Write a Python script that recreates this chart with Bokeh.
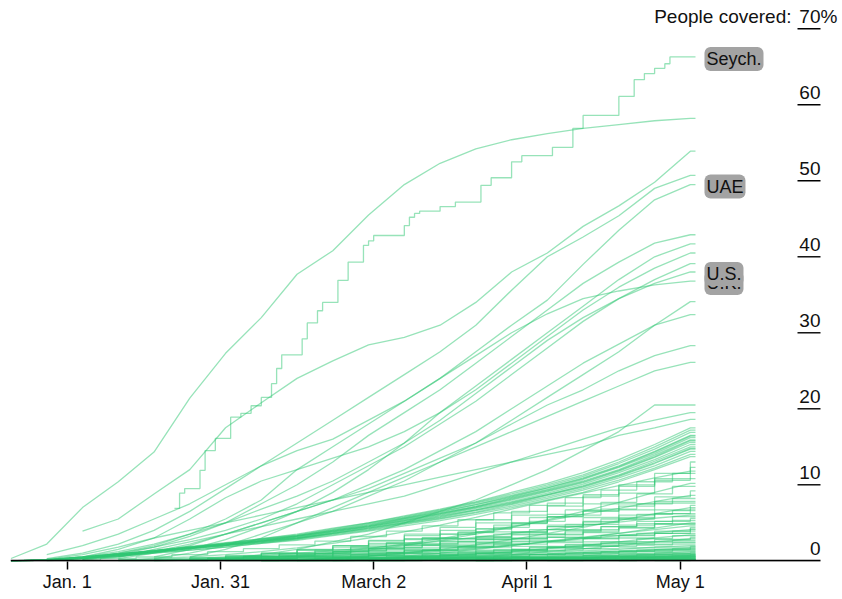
import pandas as pd
from bokeh.plotting import figure
from bokeh.models import Range1d, FixedTicker
from bokeh.embed import file_html
from bokeh.resources import INLINE
from bokeh.core.properties import value

# ---------------- data ----------------
WEEKS = ["2020-12-21", "2020-12-28", "2021-01-04", "2021-01-11", "2021-01-18", "2021-01-25",
         "2021-02-01", "2021-02-08", "2021-02-15", "2021-02-22", "2021-03-01", "2021-03-08",
         "2021-03-15", "2021-03-22", "2021-03-29", "2021-04-05", "2021-04-12", "2021-04-19",
         "2021-04-26", "2021-05-03"]
LAST_DAY = "2021-05-04"
N = None

# Seychelles (irregular reporting)
SEYCH_DATES = ["2021-01-22", "2021-01-23", "2021-01-24", "2021-01-27", "2021-01-28", "2021-01-30",
               "2021-02-02", "2021-02-04", "2021-02-06", "2021-02-08", "2021-02-10", "2021-02-11",
               "2021-02-12", "2021-02-16", "2021-02-17", "2021-02-19", "2021-02-20", "2021-02-23",
               "2021-02-25", "2021-02-28", "2021-03-01", "2021-03-02", "2021-03-08", "2021-03-09",
               "2021-03-10", "2021-03-11", "2021-03-15", "2021-03-18", "2021-03-23", "2021-03-25",
               "2021-03-29", "2021-03-31", "2021-04-06", "2021-04-10", "2021-04-12", "2021-04-19",
               "2021-04-22", "2021-04-24", "2021-04-26", "2021-04-28", "2021-04-29", "2021-05-04"]
SEYCH_VALUES = [6.9, 8.9, 9.5, 11.9, 14.5, 16.1, 18.9, 19.4, 20.4, 21.5, 23.3, 25.3, 27.1,
                29.2, 31.3, 32.9, 34.0, 36.9, 39.3, 41.5, 42.1, 42.8, 44.1, 45.2, 45.7, 46.0,
                46.6, 47.2, 49.4, 50.4, 52.5, 53.3, 54.4, 56.9, 58.6, 61.1, 63.3, 64.1, 64.8,
                65.4, 66.3, 66.3]

# upper / middle countries (weekly)
ISRAEL = [0.3, 2.2, 7.0, 10.4, 14.3, 21.4, 27.3, 32.0, 37.7, 40.8, 45.5, 49.5, 52.3, 54.2, 55.4, 56.2, 56.9, 57.4, 57.9, 58.2]
C_D = [N, N, 3.9, 5.5, 8.8, 12.0, 17.5, 20.8, 24.0, 26.3, 28.4, 29.4, 31.0, 34.0, 38.0, 40.5, 44.0, 46.7, 49.8, 53.9]
C_E = [N, 0.8, 2.0, 3.5, 5.5, 7.5, 10.0, 12.5, 15.5, 18.5, 21.5, 24.5, 27.5, 31.0, 35.6, 40.0, 42.6, 45.4, 49.0, 50.7]
UAE = [N, N, 0.3, 1.0, 2.0, 3.5, 5.5, 8.0, 12.0, 15.0, 18.0, 21.0, 24.0, 27.5, 31.0, 34.3, 39.0, 43.5, 47.5, 49.5]
C_G = [N, N, 0.2, 0.8, 1.8, 3.2, 5.0, 7.5, 10.0, 13.0, 16.5, 19.5, 22.5, 26.0, 29.5, 33.0, 36.5, 39.3, 41.8, 42.9]
C_H = [N, N, N, N, 0.5, 1.5, 2.8, 4.5, 6.5, 9.0, 12.0, 15.5, 19.5, 23.0, 26.5, 30.0, 33.5, 37.0, 40.0, 41.7]
C_I = [N, 0.1, 0.5, 1.5, 3.0, 5.5, 8.3, 10.5, 12.0, 13.5, 15.0, 17.0, 19.5, 22.5, 26.0, 29.5, 33.0, 36.0, 38.5, 40.5]
C_J = [N, 0.1, 0.4, 1.0, 1.8, 2.8, 4.0, 5.5, 7.5, 10.0, 12.5, 15.0, 18.0, 21.0, 24.5, 28.0, 31.5, 34.5, 37.0, 39.1]
US = [N, 0.1, 0.5, 1.2, 2.2, 3.5, 5.0, 6.8, 8.5, 10.5, 13.0, 15.5, 18.5, 22.0, 25.5, 29.0, 32.0, 34.5, 36.5, 38.0]
UK = [N, 0.3, 1.0, 2.2, 4.0, 6.5, 9.5, 12.5, 14.5, 16.0, 18.5, 21.0, 24.0, 27.0, 30.0, 32.5, 34.5, 35.5, 36.3, 36.8]
C_K = [N, N, N, N, 0.3, 1.0, 2.0, 3.5, 5.0, 6.5, 8.5, 10.5, 13.0, 15.5, 18.5, 21.5, 24.5, 27.5, 31.0, 34.1]
C_L = [N, N, 0.1, 0.5, 1.2, 2.2, 3.5, 5.0, 6.5, 8.0, 10.0, 12.0, 14.5, 17.0, 20.0, 23.0, 26.0, 28.5, 31.0, 32.4]
C_M = [N, N, N, 0.3, 1.0, 2.0, 3.5, 5.0, 6.5, 8.0, 9.5, 11.5, 13.5, 15.5, 18.0, 20.5, 22.5, 25.0, 27.0, 28.3]
C_N = [N, N, N, N, N, 0.5, 1.5, 3.0, 5.0, 7.0, 9.0, 11.0, 13.0, 15.0, 17.0, 19.0, 21.0, 23.0, 25.0, 26.1]
C_O = [N, N, N, N, N, N, 0.2, 0.8, 1.5, 2.5, 3.5, 5.0, 6.5, 8.0, 10.0, 12.0, 14.5, 17.0, 20.5, 20.5]
C_P = [N, N, N, 0.5, 1.5, 2.5, 3.5, 4.5, 5.5, 6.5, 7.5, 8.5, 10.0, 11.5, 13.0, 14.5, 16.0, 17.5, 18.5, 19.5]
C_Q = [N, 0.2, 0.8, 1.8, 3.0, 4.0, 5.0, 6.0, 7.0, 8.0, 9.0, 10.0, 11.0, 12.0, 13.0, 14.0, 15.0, 16.5, 17.5, 18.6]

# European band (weekly)
EU1 = [0, 0.1, 0.5, 0.9, 1.4, 1.9, 2.4, 2.9, 3.5, 4.3, 5.0, 5.9, 6.8, 7.8, 9.0, 10.2, 11.6, 13.3, 15.3, 17.5]
EU2 = [0, 0.1, 0.4, 0.8, 1.3, 1.8, 2.3, 2.8, 3.3, 4.1, 4.9, 5.7, 6.6, 7.6, 8.6, 9.8, 11.1, 12.8, 14.7, 16.9]
EU3 = [0, 0.2, 0.5, 0.9, 1.3, 1.8, 2.2, 2.7, 3.3, 4.0, 4.7, 5.6, 6.4, 7.4, 8.4, 9.6, 10.8, 12.4, 14.3, 16.4]
EU4 = [0, 0.1, 0.3, 0.7, 1.1, 1.6, 2.1, 2.6, 3.2, 3.9, 4.6, 5.4, 6.2, 7.1, 8.2, 9.3, 10.5, 12.0, 13.9, 15.9]
EU5 = [0, 0.1, 0.4, 0.8, 1.2, 1.7, 2.1, 2.6, 3.1, 3.8, 4.5, 5.3, 6.1, 7.0, 8.0, 9.1, 10.3, 11.8, 13.6, 15.6]
EU6 = [N, 0.0, 0.3, 0.7, 1.2, 1.7, 2.1, 2.6, 3.0, 3.7, 4.4, 5.2, 6.0, 6.9, 7.8, 8.9, 10.1, 11.6, 13.3, 15.3]
EU7 = [0, 0.1, 0.4, 0.8, 1.1, 1.6, 2.0, 2.5, 3.0, 3.6, 4.3, 5.1, 5.9, 6.7, 7.7, 8.7, 9.9, 11.3, 13.1, 15.0]
EU8 = [N, 0.1, 0.3, 0.7, 1.1, 1.6, 2.0, 2.4, 2.9, 3.6, 4.2, 5.0, 5.7, 6.6, 7.5, 8.6, 9.7, 11.1, 12.8, 14.7]
EU9 = [0, 0.1, 0.4, 0.8, 1.2, 1.6, 2.0, 2.4, 2.9, 3.5, 4.1, 4.9, 5.6, 6.4, 7.4, 8.4, 9.5, 10.9, 12.5, 14.4]
EU10 = [N, 0.1, 0.3, 0.6, 1.0, 1.4, 1.8, 2.3, 2.8, 3.4, 4.0, 4.8, 5.5, 6.3, 7.2, 8.2, 9.3, 10.6, 12.2, 14.0]
EU11 = [0, 0.1, 0.3, 0.6, 1.0, 1.4, 1.8, 2.3, 2.7, 3.3, 3.9, 4.6, 5.3, 6.1, 7.0, 8.0, 9.0, 10.4, 12.0, 13.7]
EU12 = [N, N, 0.2, 0.6, 1.1, 1.7, 2.3, 2.9, 3.4, 4.2, 5.0, 5.8, 6.7, 7.7, 8.8, 10.0, 11.3, 13.0, 15.0, 17.2]
EU13 = [0, 0.1, 0.4, 0.9, 1.3, 1.8, 2.2, 2.7, 3.2, 3.9, 4.6, 5.5, 6.3, 7.2, 8.3, 9.4, 10.7, 12.3, 14.1, 16.2]
EU14 = [0, 0.1, 0.4, 0.8, 1.3, 1.7, 2.2, 2.6, 3.2, 3.8, 4.5, 5.3, 6.2, 7.1, 8.1, 9.2, 10.4, 11.9, 13.7, 15.8]
EU15 = [0, 0.2, 0.5, 0.9, 1.3, 1.7, 2.1, 2.5, 3.0, 3.6, 4.3, 5.0, 5.8, 6.7, 7.6, 8.7, 9.8, 11.2, 12.9, 14.8]
EU16 = [0, 0.1, 0.4, 0.8, 1.3, 1.8, 2.3, 2.8, 3.3, 4.0, 4.8, 5.6, 6.5, 7.4, 8.5, 9.6, 10.9, 12.5, 14.4, 16.5]

# lower countries (weekly, reported in steps)
LO1 = [N, N, N, N, 0.1, 0.3, 0.6, 1.0, 1.5, 2.0, 2.6, 3.3, 4.0, 5.0, 6.0, 7.2, 8.5, 10.0, 11.5, 13.0]
LO2 = [N, N, 0.1, 0.3, 0.5, 0.8, 1.2, 1.6, 2.1, 2.6, 3.2, 3.9, 4.6, 5.4, 6.3, 7.3, 8.3, 9.3, 10.4, 11.5]
LO3 = [N, N, N, N, N, N, 0.2, 0.5, 0.9, 1.4, 2.0, 2.7, 3.5, 4.4, 5.4, 6.5, 7.6, 8.7, 9.8, 10.8]
LO4 = [N, N, N, 0.1, 0.2, 0.4, 0.7, 1.0, 1.4, 1.8, 2.3, 2.9, 3.5, 4.2, 5.0, 5.8, 6.6, 7.5, 8.4, 9.2]
LO5 = [N, N, N, N, N, 0.1, 0.3, 0.6, 1.0, 1.4, 1.9, 2.4, 3.0, 3.7, 4.4, 5.2, 6.0, 6.8, 7.5, 8.2]
LO6 = [N, N, N, N, N, N, N, 0.2, 0.5, 1.0, 1.5, 2.1, 2.8, 3.5, 4.2, 5.0, 5.8, 6.5, 7.2, 7.8]
LO7 = [N, N, N, N, 0.1, 0.2, 0.4, 0.6, 0.9, 1.2, 1.6, 2.0, 2.5, 3.1, 3.8, 4.5, 5.2, 6.0, 6.7, 7.3]
LO8 = [N, N, N, N, N, N, 0.1, 0.3, 0.6, 0.9, 1.3, 1.8, 2.3, 2.9, 3.5, 4.1, 4.8, 5.5, 6.1, 6.6]
LO9 = [N, N, N, N, N, 0.1, 0.2, 0.4, 0.6, 0.9, 1.2, 1.6, 2.1, 2.6, 3.2, 3.8, 4.5, 5.1, 5.7, 6.2]
LO10 = [N, N, N, N, N, N, N, N, 0.2, 0.5, 0.9, 1.3, 1.8, 2.3, 2.9, 3.5, 4.1, 4.7, 5.2, 5.6]
LO11 = [N, N, N, N, N, 0.1, 0.3, 0.5, 0.7, 1.0, 1.3, 1.7, 2.1, 2.5, 3.0, 3.5, 4.0, 4.5, 4.9, 5.3]
LO12 = [N, N, N, N, N, N, N, 0.1, 0.3, 0.5, 0.8, 1.1, 1.5, 1.9, 2.4, 2.9, 3.4, 3.9, 4.4, 4.8]
LO13 = [N, N, N, N, N, N, N, N, N, 0.1, 0.3, 0.6, 1.0, 1.4, 1.9, 2.4, 2.9, 3.4, 3.9, 4.4]
LO14 = [N, N, N, N, N, N, 0.1, 0.2, 0.4, 0.6, 0.8, 1.1, 1.4, 1.8, 2.2, 2.6, 3.0, 3.3, 3.6, 3.9]
LO15 = [N, N, N, N, N, N, N, N, 0.1, 0.2, 0.4, 0.7, 1.0, 1.4, 1.8, 2.2, 2.6, 3.0, 3.3, 3.6]
LO16 = [N, N, N, N, N, N, N, N, N, N, 0.2, 0.4, 0.7, 1.0, 1.4, 1.8, 2.2, 2.5, 2.8, 3.1]
LO17 = [N, N, N, N, N, N, N, 0.1, 0.2, 0.3, 0.5, 0.7, 0.9, 1.2, 1.5, 1.8, 2.1, 2.3, 2.5, 2.7]
LO18 = [N, N, N, N, N, N, 0.1, 0.2, 0.3, 0.4, 0.5, 0.7, 0.9, 1.1, 1.3, 1.5, 1.8, 2.0, 2.3, 2.5]
LO31 = [N, N, N, N, N, N, 0.1, 0.3, 0.6, 1.0, 1.5, 2.1, 2.9, 3.8, 4.9, 6.1, 7.5, 8.9, 10.6, 12.3]
LO32 = [N, N, N, N, N, 0.1, 0.3, 0.5, 0.8, 1.2, 1.7, 2.3, 3.0, 3.8, 4.7, 5.7, 6.7, 7.7, 8.8, 9.8]
LO33 = [N, N, N, N, N, N, N, N, N, 0.2, 0.5, 0.9, 1.4, 2.0, 2.8, 3.7, 4.7, 5.7, 6.7, 7.6]
LO34 = [N, N, N, N, 0.1, 0.2, 0.3, 0.5, 0.7, 1.0, 1.3, 1.7, 2.2, 2.8, 3.4, 4.1, 4.8, 5.5, 6.2, 6.8]
LO35 = [N, N, N, N, N, N, N, 0.1, 0.2, 0.4, 0.7, 1.0, 1.4, 1.9, 2.5, 3.1, 3.8, 4.5, 5.2, 5.8]
LO36 = [N, N, N, N, N, N, 0.1, 0.2, 0.3, 0.5, 0.7, 1.0, 1.3, 1.7, 2.1, 2.6, 3.1, 3.7, 4.3, 4.9]
LO37 = [N, N, N, N, N, N, N, N, N, N, N, 0.2, 0.5, 0.9, 1.4, 1.9, 2.5, 3.0, 3.6, 4.2]
LO38 = [N, N, N, N, N, N, N, N, 0.1, 0.2, 0.3, 0.5, 0.7, 1.0, 1.3, 1.7, 2.1, 2.5, 2.9, 3.3]

# more lower countries (weekly, smoother reporting)
LO19 = [N, N, N, N, N, 0.1, 0.2, 0.4, 0.7, 1.1, 1.6, 2.2, 2.9, 3.7, 4.5, 5.3, 6.1, 6.9, 7.8, 8.6]
LO20 = [N, N, N, N, N, N, N, N, 0.1, 0.3, 0.6, 1.0, 1.5, 2.1, 2.8, 3.6, 4.4, 5.3, 6.2, 7.0]
LO21 = [N, N, N, 0.1, 0.2, 0.3, 0.5, 0.7, 1.0, 1.3, 1.7, 2.1, 2.6, 3.1, 3.6, 4.1, 4.6, 5.1, 5.6, 6.0]
LO22 = [N, N, N, N, N, N, N, 0.1, 0.2, 0.4, 0.6, 0.9, 1.2, 1.6, 2.0, 2.5, 3.0, 3.6, 4.3, 5.0]
LO23 = [N, N, N, N, N, N, N, N, N, N, 0.3, 0.6, 1.0, 1.5, 2.0, 2.6, 3.1, 3.6, 4.1, 4.6]
LO24 = [N, N, N, N, N, 0.1, 0.2, 0.3, 0.5, 0.7, 0.9, 1.1, 1.4, 1.7, 2.1, 2.5, 2.9, 3.3, 3.7, 4.1]
LO25 = [N, N, N, N, N, N, N, N, N, 0.1, 0.2, 0.4, 0.6, 0.9, 1.2, 1.6, 2.0, 2.5, 3.0, 3.4]
LO26 = [N, N, N, N, N, N, N, N, N, N, N, 0.1, 0.3, 0.5, 0.8, 1.2, 1.6, 2.0, 2.5, 2.9]
LO27 = [N, N, N, 0.1, 0.3, 0.5, 0.8, 1.2, 1.7, 2.3, 3.0, 3.8, 4.7, 5.7, 6.8, 7.9, 8.9, 9.9, 10.9, 11.8]
LO28 = [N, N, N, N, N, N, N, 0.2, 0.5, 0.9, 1.4, 2.0, 2.7, 3.5, 4.4, 5.4, 6.5, 7.7, 9.0, 10.2]
LO29 = [N, N, N, N, N, N, N, N, 0.1, 0.2, 0.3, 0.4, 0.5, 0.7, 0.9, 1.1, 1.3, 1.5, 1.8, 2.0]
LO30 = [N, N, N, N, N, N, N, N, N, N, 0.1, 0.2, 0.3, 0.5, 0.7, 0.9, 1.1, 1.3, 1.5, 1.7]

# near-zero countries (weekly)
Z1 = [N, N, N, N, N, N, N, N, N, N, 0.1, 0.3, 0.5, 0.8, 1.1, 1.4, 1.7, 1.9, 2.1, 2.2]
Z2 = [N, N, N, N, N, N, N, 0.1, 0.2, 0.3, 0.4, 0.6, 0.8, 1.0, 1.2, 1.4, 1.6, 1.7, 1.8, 1.9]
Z3 = [N, N, N, N, N, N, N, N, N, N, N, N, 0.1, 0.3, 0.5, 0.8, 1.0, 1.2, 1.4, 1.6]
Z4 = [N, N, N, N, N, N, N, N, N, 0.1, 0.2, 0.3, 0.4, 0.5, 0.6, 0.8, 0.9, 1.0, 1.2, 1.3]
Z5 = [N, N, N, N, N, N, N, N, N, N, N, 0.1, 0.2, 0.3, 0.4, 0.5, 0.7, 0.8, 1.0, 1.1]
Z6 = [N, N, N, N, N, N, N, N, N, N, N, N, N, 0.1, 0.2, 0.4, 0.5, 0.6, 0.8, 0.9]
Z7 = [N, N, N, N, N, N, N, N, N, N, N, 0.1, 0.1, 0.2, 0.3, 0.4, 0.5, 0.6, 0.7, 0.8]
Z8 = [N, N, N, N, N, N, N, N, N, N, N, N, 0.1, 0.1, 0.2, 0.3, 0.3, 0.4, 0.5, 0.6]
Z9 = [N, N, N, N, N, N, N, N, N, N, N, N, N, N, 0.1, 0.2, 0.3, 0.3, 0.4, 0.5]
Z10 = [N, N, N, N, N, N, N, N, N, N, 0.0, 0.1, 0.1, 0.1, 0.2, 0.2, 0.3, 0.3, 0.4, 0.4]
Z11 = [N, N, N, N, N, N, N, N, N, N, N, N, N, N, N, 0.1, 0.1, 0.2, 0.2, 0.3]
Z12 = [N, N, N, N, N, N, N, N, N, N, N, N, N, 0.0, 0.1, 0.1, 0.1, 0.2, 0.2, 0.25]
Z13 = [N, N, N, N, N, N, N, N, N, N, N, N, N, N, N, N, 0.1, 0.1, 0.2, 0.2]
Z14 = [N, N, N, N, N, N, N, N, N, N, N, N, 0.0, 0.0, 0.1, 0.1, 0.1, 0.1, 0.1, 0.15]
Z15 = [N, N, N, N, N, N, N, N, N, N, N, N, N, N, N, N, N, 0.0, 0.1, 0.1]
Z16 = [N, N, N, N, N, N, N, N, 0.0, 0.0, 0.0, 0.0, 0.1, 0.1, 0.1, 0.1, 0.1, 0.1, 0.1, 0.1]
Z17 = [N, N, N, N, N, N, N, N, N, N, N, N, N, N, N, N, N, N, 0.0, 0.05]
Z18 = [N, N, N, N, 0.0, 0.1, 0.1, 0.2, 0.2, 0.3, 0.4, 0.5, 0.6, 0.7, 0.8, 0.9, 1.1, 1.2, 1.4, 1.5]
Z19 = [N, N, N, N, N, N, N, N, N, 0.0, 0.1, 0.1, 0.2, 0.2, 0.3, 0.4, 0.4, 0.5, 0.6, 0.7]
Z20 = [N, N, N, 0.0, 0.0, 0.1, 0.1, 0.1, 0.2, 0.2, 0.2, 0.3, 0.3, 0.3, 0.4, 0.4, 0.4, 0.5, 0.5, 0.6]
Z21 = [N, N, N, N, N, N, N, N, 0.0, 0.1, 0.1, 0.2, 0.3, 0.4, 0.5, 0.6, 0.7, 0.9, 1.0, 1.2]
Z22 = [N, N, N, N, N, N, N, N, N, N, N, N, N, N, 0.1, 0.3, 0.4, 0.6, 0.8, 0.9]
Z23 = [N, N, N, N, N, N, N, N, N, N, 0.0, 0.0, 0.1, 0.1, 0.2, 0.3, 0.3, 0.4, 0.5, 0.6]
Z24 = [N, N, N, N, N, N, N, N, N, N, N, N, N, N, N, N, 0.1, 0.2, 0.3, 0.4]
Z25 = [N, N, N, N, N, N, N, 0.0, 0.0, 0.0, 0.1, 0.1, 0.1, 0.1, 0.2, 0.2, 0.2, 0.2, 0.3, 0.3]
Z26 = [N, N, N, N, N, N, N, N, N, N, N, N, N, N, 0.0, 0.1, 0.1, 0.1, 0.2, 0.2]
Z27 = [N, N, N, N, N, N, N, N, N, N, N, N, N, N, N, N, N, N, 0.1, 0.1]
Z28 = [N, N, N, N, N, N, N, N, N, N, N, N, 0.0, 0.0, 0.0, 0.0, 0.0, 0.0, 0.05, 0.05]
Z29 = [N, N, N, N, N, N, N, 0.0, 0.1, 0.1, 0.2, 0.3, 0.4, 0.5, 0.6, 0.8, 0.9, 1.1, 1.2, 1.4]
Z30 = [N, N, N, N, N, N, N, N, N, N, 0.0, 0.1, 0.2, 0.3, 0.4, 0.5, 0.6, 0.7, 0.9, 1.0]
Z31 = [N, N, N, N, N, N, N, 0.0, 0.0, 0.1, 0.1, 0.2, 0.2, 0.3, 0.4, 0.4, 0.5, 0.6, 0.7, 0.8]
Z32 = [N, N, N, N, N, N, N, N, N, N, N, N, 0.1, 0.1, 0.2, 0.3, 0.4, 0.5, 0.6, 0.7]
Z33 = [N, N, N, N, N, N, 0.0, 0.0, 0.0, 0.1, 0.1, 0.1, 0.2, 0.2, 0.2, 0.3, 0.3, 0.4, 0.4, 0.5]
Z34 = [N, N, N, N, N, N, N, N, N, N, N, N, N, 0.0, 0.1, 0.1, 0.2, 0.2, 0.3, 0.35]
Z35 = [N, N, N, N, N, N, N, N, N, 0.0, 0.0, 0.0, 0.1, 0.1, 0.1, 0.1, 0.1, 0.2, 0.2, 0.2]
Z36 = [N, N, N, N, N, N, N, N, N, N, N, N, N, N, N, 0.0, 0.0, 0.1, 0.1, 0.1]
Z37 = [N, N, N, N, N, N, N, N, N, N, N, 0.1, 0.2, 0.4, 0.6, 0.8, 1.0, 1.3, 1.5, 1.8]
Z38 = [N, N, N, N, N, 0.0, 0.1, 0.1, 0.2, 0.3, 0.4, 0.5, 0.7, 0.9, 1.1, 1.3, 1.6, 1.9, 2.1, 2.4]

SMOOTH_SERIES = [LO19, LO20, LO21, LO22, LO23, LO24, LO25, LO26, LO27, LO28, LO29, LO30,
                 Z18, Z19, Z20, Z21, Z22, Z23, Z24, Z25, Z26, Z27, Z28,
                 C_Q, C_P, C_O, C_N, C_M, C_L, C_K, UK, US, C_J, C_I, C_H, C_G, UAE, C_E, C_D, ISRAEL,
                 EU1, EU2, EU3, EU4, EU5, EU6, EU7, EU8, EU9, EU10, EU11, EU12, EU13, EU14, EU15, EU16]
STEP_SERIES = [LO1, LO2, LO3, LO4, LO5, LO6, LO7, LO8, LO9, LO10, LO11, LO12, LO13, LO14, LO15,
               LO16, LO17, LO18, LO31, LO32, LO33, LO34, LO35, LO36, LO37, LO38,
               Z1, Z2, Z3, Z4, Z5, Z6, Z7, Z8, Z9, Z10, Z11, Z12, Z13, Z14, Z15,
               Z16, Z17, Z29, Z30, Z31, Z32, Z33, Z34, Z35, Z36, Z37, Z38]

LABEL_TEXTS = ["Seych.", "UAE", "U.K.", "U.S."]
LABEL_VALUES = [SEYCH_VALUES[-1], UAE[-1], UK[-1], US[-1]]

Y_TICKS = [0, 10, 20, 30, 40, 50, 60, 70]
Y_TICK_LABELS = ["0", "10", "20", "30", "40", "50", "60", "70"]
X_TICK_DATES = ["2021-01-01", "2021-01-31", "2021-03-02", "2021-04-01", "2021-05-01"]
X_TICK_LABELS = ["Jan. 1", "Jan. 31", "March 2", "April 1", "May 1"]

# ---------------- helpers ----------------
def ms(d):
    return pd.Timestamp(d).value / 1e6

FONT = value("Liberation Sans")
GREEN = "#2fc873"
STEP_MODES = ["after", "center", "before"]

X_START = ms("2020-12-20 21:36")
X_END = ms("2021-06-01 00:00")
FRAME_LEFT = 10
FRAME_W = 828
FRAME_H = 561


def px_x(px):
    # page pixel -> data x
    return X_START + (X_END - X_START) * (px - FRAME_LEFT) / FRAME_W


def weekly_points(vals):
    xs, ys = [], []
    for d, v in zip(WEEKS, vals):
        if v is None:
            continue
        xs.append(ms(d))
        ys.append(v)
    xs.append(ms(LAST_DAY))
    ys.append(ys[-1])
    return xs, ys


# ---------------- figure ----------------
p = figure(frame_width=FRAME_W, frame_height=FRAME_H, output_backend="svg",
           toolbar_location=None, x_axis_type="datetime", y_axis_location=None,
           min_border_left=FRAME_LEFT, min_border_right=0, min_border_top=0, min_border_bottom=0,
           x_range=Range1d(X_START, X_END), y_range=Range1d(-0.092, 73.72))
p.outline_line_color = None
p.xgrid.visible = False
p.ygrid.visible = False
p.background_fill_color = "white"
p.border_fill_color = "white"

for i, vals in enumerate(STEP_SERIES):
    xs, ys = weekly_points(vals)
    p.step(xs, ys, mode=STEP_MODES[i % 3], line_color=GREEN, line_alpha=0.5, line_width=1.3)

for vals in SMOOTH_SERIES:
    xs, ys = weekly_points(vals)
    p.line(xs, ys, line_color=GREEN, line_alpha=0.5, line_width=1.3)

p.step([ms(d) for d in SEYCH_DATES], SEYCH_VALUES, mode="after",
       line_color=GREEN, line_alpha=0.5, line_width=1.3)

# baseline (axis line ends before the right-hand labels)
p.segment(x0=[X_START], x1=[px_x(820)], y0=[0], y1=[0], line_color="black", line_width=2)

# x axis
tick_ms = [int(ms(d)) for d in X_TICK_DATES]
ax = p.xaxis[0]
ax.ticker = FixedTicker(ticks=tick_ms)
overrides = {}
for t, lab in zip(tick_ms, X_TICK_LABELS):
    overrides[t] = lab
    overrides[str(t)] = lab
ax.major_label_overrides = overrides
ax.axis_line_color = None
ax.major_tick_in = 0
ax.major_tick_out = 8
ax.major_tick_line_color = "black"
ax.major_tick_line_width = 1.5
ax.minor_tick_line_color = None
ax.major_label_standoff = 2
ax.major_label_text_font = "Liberation Sans"
ax.major_label_text_font_size = "18px"
ax.major_label_text_color = "#111111"

# right-hand value labels with underlines
anchor = px_x(820)
LABEL_STYLE = dict(text_baseline="middle", y_offset=-12.5, text_font=FONT,
                   text_font_size="19px", text_color="#111111")
p.text(x=[anchor] * len(Y_TICKS), y=Y_TICKS, text=Y_TICK_LABELS, text_align="right", **LABEL_STYLE)
p.segment(x0=[px_x(797)] * (len(Y_TICKS) - 1), x1=[anchor] * (len(Y_TICKS) - 1),
          y0=Y_TICKS[1:], y1=Y_TICKS[1:], line_color="black", line_width=1.4)
p.text(x=[anchor], y=[Y_TICKS[-1]], text=["%"], text_align="left", **LABEL_STYLE)
p.text(x=[px_x(791)], y=[Y_TICKS[-1]], text=["People covered:"], text_align="right", **LABEL_STYLE)

# country labels with grey halo
p.text(x=[ms(LAST_DAY)] * len(LABEL_TEXTS), y=LABEL_VALUES, text=LABEL_TEXTS,
       x_offset=9, y_offset=2, text_align="left", text_baseline="middle",
       text_font=FONT, text_font_size="18px", text_color="#111111",
       background_fill_color="#a3a3a3", padding=2, border_radius=6)

open("out.html", "w").write(file_html(p, INLINE))
